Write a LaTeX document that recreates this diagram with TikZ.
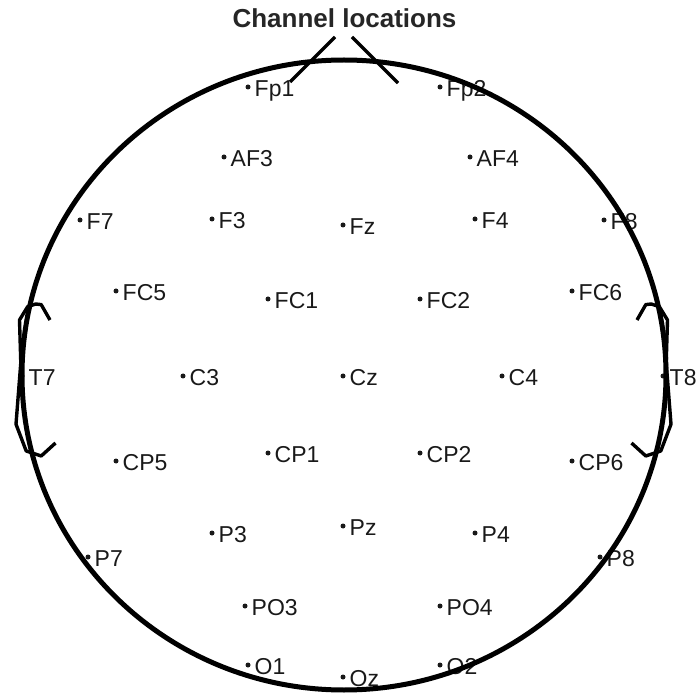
\documentclass[tikz,border=0pt]{standalone}
\usepackage{fontspec}
\setmainfont{Liberation Sans}
\tikzset{
  elecdot/.style={circle,fill=black!90,inner sep=0pt,minimum size=5pt},
  eleclabel/.style={anchor=west,inner sep=0pt,text=black!90,font=\fontsize{23}{23}\selectfont,text height=16.5pt,text depth=0pt},
  headline/.style={line width=5pt},
  earline/.style={line width=3.4pt,line join=round},
  titlestyle/.style={font=\bfseries\fontsize{26}{26}\selectfont,text=black!85,inner sep=0pt}
}
\newcommand\elec[4]{%
  \node[elecdot] (#1) at (#2,#3) {};
  \node[eleclabel] (#1-l) at ({#2+6.5},{#3+1}) {#4};}
\begin{document}
\begin{tikzpicture}[x=1pt,y=-1pt]
\useasboundingbox (0,0) rectangle (697,695);
\node[titlestyle] (title) at (344.5,18) {Channel locations};
\elec{Fp1}{248}{87}{Fp1}
\elec{Fp2}{440}{87}{Fp2}
\elec{AF3}{224}{157}{AF3}
\elec{AF4}{470}{157}{AF4}
\elec{F7}{80}{220}{F7}
\elec{F3}{212}{219}{F3}
\elec{Fz}{343}{225}{Fz}
\elec{F4}{475}{219}{F4}
\elec{F8}{604}{220}{F8}
\elec{FC5}{116}{291}{FC5}
\elec{FC1}{268}{299}{FC1}
\elec{FC2}{420}{299}{FC2}
\elec{FC6}{572}{291}{FC6}
\elec{T7}{22}{376}{T7}
\elec{C3}{183}{376}{C3}
\elec{Cz}{343}{376}{Cz}
\elec{C4}{502}{376}{C4}
\elec{T8}{663}{376}{T8}
\elec{CP5}{116}{461}{CP5}
\elec{CP1}{268}{453}{CP1}
\elec{CP2}{420}{453}{CP2}
\elec{CP6}{572}{461}{CP6}
\elec{P7}{88}{557}{P7}
\elec{P3}{212}{533}{P3}
\elec{Pz}{343}{526}{Pz}
\elec{P4}{475}{533}{P4}
\elec{P8}{600}{557}{P8}
\elec{PO3}{245}{606}{PO3}
\elec{PO4}{440}{606}{PO4}
\elec{O1}{248}{665}{O1}
\elec{Oz}{343}{677}{Oz}
\elec{O2}{440}{665}{O2}
% head
\draw[headline] (344,375) ellipse [x radius=322, y radius=315];
% nose
\draw[earline] (290,82) -- (335,37);
\draw[earline] (352,37) -- (398,83);
% ears
\draw[earline] (50,320) -- (41.2,304.6) -- (35.8,304) -- (27.7,306.6) -- (19.5,320) -- (20.8,362.8) -- (16,424.2) -- (26.2,451) -- (41.2,456) -- (55.5,443);
\draw[earline] (637,320) -- (645.8,304.6) -- (651.2,304) -- (659.3,306.6) -- (667.5,320) -- (666.2,362.8) -- (671,424.2) -- (660.8,451) -- (645.8,456) -- (631.5,443);
\end{tikzpicture}
\end{document}
